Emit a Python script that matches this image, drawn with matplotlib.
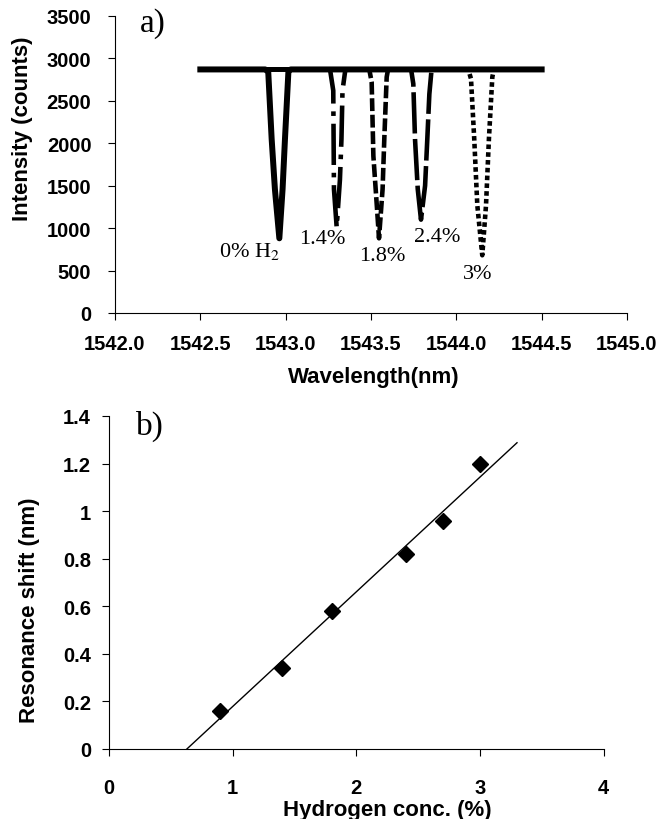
import numpy as np
import matplotlib
matplotlib.use("Agg")
import matplotlib.pyplot as plt

plt.rcParams["font.family"] = ["Liberation Sans", "DejaVu Sans"]
plt.rcParams["mathtext.fontset"] = "stix"

# ---- panel a) spectra (wavelength nm, intensity counts)
wl_0 = [1542.50, 1542.88, 1542.898, 1542.918, 1542.937, 1542.963, 1542.982, 1542.996, 1543.016, 1543.03, 1544.50]
int_0 = [2870, 2870, 2840, 2050, 1460, 880, 1460, 2050, 2840, 2870, 2870]

wl_14 = [1542.50, 1543.26, 1543.279, 1543.283, 1543.299, 1543.318, 1543.327, 1543.333, 1543.35, 1544.50]
int_14 = [2870, 2870, 2620, 1460, 1010, 1570, 2050, 2620, 2870, 2870]

wl_18 = [1542.50, 1543.49, 1543.504, 1543.514, 1543.534, 1543.547, 1543.568, 1543.578, 1543.592, 1543.60, 1544.50]
int_18 = [2870, 2870, 2720, 1850, 1270, 880, 1460, 2050, 2780, 2870, 2870]

wl_24 = [1542.50, 1543.735, 1543.748, 1543.758, 1543.774, 1543.793, 1543.817, 1543.830, 1543.842, 1543.855, 1544.50]
int_24 = [2870, 2870, 2700, 2050, 1460, 1100, 1500, 2050, 2580, 2870, 2870]

wl_30 = [1542.50, 1544.07, 1544.086, 1544.105, 1544.123, 1544.152, 1544.174, 1544.191, 1544.211, 1544.22, 1544.50]
int_30 = [2870, 2870, 2760, 2050, 1270, 680, 1270, 2050, 2780, 2870, 2870]

dip_labels = ["0% H$_2$", "1.4%", "1.8%", "2.4%", "3%"]
label_x = [1542.79, 1543.213, 1543.564, 1543.887, 1544.127]
label_y = [731, 872, 672, 896, 460]

# ---- panel b) resonance shift vs hydrogen concentration
conc = [0.9, 1.4, 1.8, 2.4, 2.7, 3.0]
shift = [0.16, 0.34, 0.58, 0.82, 0.96, 1.20]

fig = plt.figure(figsize=(6.62, 8.2), dpi=100)

# ---------------- a)
ax1 = fig.add_axes([0.1737, 0.6171, 0.7734, 0.3622])
lw = 3.3
ax1.plot(wl_24, int_24, color="black", lw=lw, ls=(0, (9, 1.2)))
ax1.plot(wl_18, int_18, color="black", lw=lw, ls=(0, (2.8, 0.8)))
ax1.plot(wl_14, int_14, color="black", lw=lw, ls=(0, (9, 1.7, 1, 1.7)))
ax1.plot(wl_30, int_30, color="black", lw=lw, ls=(0, (1, 0.7)))
ax1.plot(wl_0, int_0, color="black", lw=lw + 1, ls="-")

for txt, x, y in zip(dip_labels, label_x, label_y):
    ax1.text(x, y, txt, ha="center", va="center", fontsize=16,
             family=["Liberation Serif", "DejaVu Serif"])

ax1.text(1542.22, 3420, "a)", ha="center", va="center", fontsize=24,
         family=["Liberation Serif", "DejaVu Serif"])

ax1.set_xlim(1542.0, 1545.0)
ax1.set_ylim(0, 3500)
ax1.set_xticks(np.arange(1542.0, 1545.01, 0.5))
ax1.set_xticklabels([f"{v:.1f}" for v in np.arange(1542.0, 1545.01, 0.5)])
ax1.set_yticks(np.arange(0, 3501, 500))
ax1.set_xlabel("Wavelength(nm)", fontsize=16, fontweight="bold")
ax1.set_ylabel("Intensity (counts)", fontsize=16, fontweight="bold")
ax1.xaxis.set_label_coords(0.506, -0.178)
ax1.yaxis.set_label_coords(-0.160, 0.623)
ax1.tick_params(axis="x", direction="out", length=5, width=0.8, pad=10, labelsize=14.5)
ax1.tick_params(axis="y", direction="out", length=5, width=0.8, pad=12, labelsize=14.5)

# ---------------- b)
ax2 = fig.add_axes([0.1647, 0.0854, 0.747, 0.4061])
a, b = np.polyfit(conc, shift, 1)
fit_x = np.array([-b / a, 3.3])
ax2.plot(fit_x, a * fit_x + b, color="black", lw=1)
ax2.plot(conc, shift, ls="none", marker="D", ms=8.5, color="black")

ax2.text(0.33, 1.36, "b)", ha="center", va="center", fontsize=24,
         family=["Liberation Serif", "DejaVu Serif"])

ax2.set_xlim(0, 4)
ax2.set_ylim(0, 1.4)
ax2.set_xticks([0, 1, 2, 3, 4])
ax2.set_yticks([0, 0.2, 0.4, 0.6, 0.8, 1.0, 1.2, 1.4])
ax2.set_yticklabels(["0", "0.2", "0.4", "0.6", "0.8", "1", "1.2", "1.4"])
ax2.set_xlabel("Hydrogen conc. (%)", fontsize=16, fontweight="bold")
ax2.set_ylabel("Resonance shift (nm)", fontsize=16, fontweight="bold")
ax2.xaxis.set_label_coords(0.562, -0.15)
ax2.yaxis.set_label_coords(-0.14, 0.42)
ax2.tick_params(axis="x", direction="out", length=5, width=0.8, pad=16, labelsize=14.5)
ax2.tick_params(axis="y", direction="out", length=5, width=0.8, pad=8, labelsize=14.5)

for ax in (ax1, ax2):
    ax.spines["top"].set_visible(False)
    ax.spines["right"].set_visible(False)
    ax.spines["left"].set_linewidth(0.8)
    ax.spines["bottom"].set_linewidth(0.8)
    for lab in ax.get_xticklabels() + ax.get_yticklabels():
        lab.set_fontweight("bold")

fig.savefig("out.png", dpi=100)
